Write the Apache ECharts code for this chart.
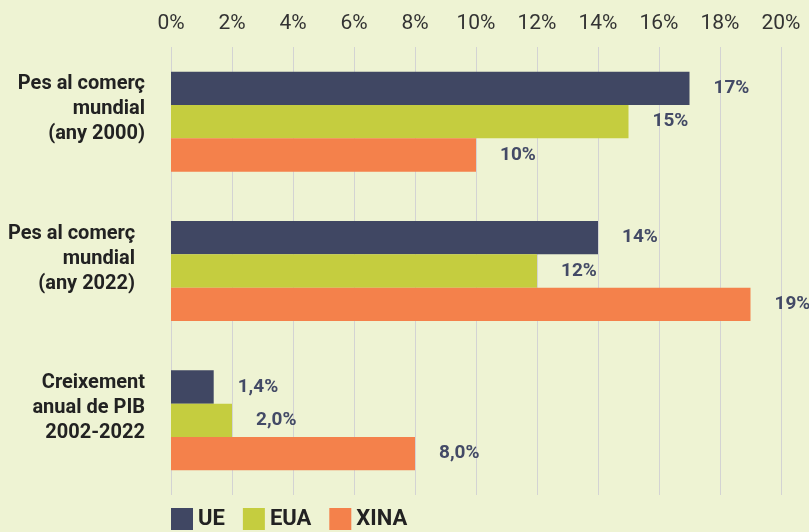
<!DOCTYPE html>
<html>
<head>
<meta charset="utf-8">
<script src="https://cdn.jsdelivr.net/npm/echarts@6/dist/echarts.min.js"></script>
<style>
  html, body { margin: 0; padding: 0; background: #eef3d3; }
  #chart { width: 809px; height: 532px; }
</style>
</head>
<body>
<div id="chart"></div>
<script>
// categories (top to bottom)
const categories = [
  "Pes al comerç\nmundial\n(any 2000)",
  "Pes al comerç  \nmundial  \n(any 2022)  ",
  "Creixement\nanual de PIB\n2002-2022"
];
const ue = [17, 14, 1.4];
const eua = [15, 12, 2.0];
const xina = [10, 19, 8.0];

const chart = echarts.init(document.getElementById("chart"));

// label: integers for the trade shares, one decimal (comma) for growth
function fmt(p) {
  if (p.dataIndex === 2) return p.value.toFixed(1).replace(".", ",") + "%";
  return Math.round(p.value) + "%";
}

const labelStyle = {
  show: true,
  position: "right",
  distance: 24,
  formatter: fmt,
  color: "#434a66",
  fontWeight: "bold",
  fontSize: 19,
  fontFamily: "Roboto"
};

const option = {
  backgroundColor: "#eef3d3",
  animation: false,
  textStyle: { fontFamily: "Roboto" },
  color: ["#404763", "#c5cd3f", "#f4814b"],
  grid: { left: 171, right: 28, top: 47, bottom: 37 },
  legend: {
    left: 166,
    top: 503,
    itemWidth: 22,
    itemHeight: 22,
    itemGap: 18,
    icon: "rect",
    textStyle: { fontSize: 22, fontWeight: "bold", color: "#222" },
    data: ["UE", "EUA", "XINA"]
  },
  xAxis: {
    type: "value",
    position: "top",
    min: 0,
    max: 20,
    interval: 2,
    axisLine: { show: false },
    axisTick: { show: false },
    axisLabel: {
      formatter: "{value}%",
      fontSize: 21,
      color: "#333",
      margin: 13
    },
    splitLine: { lineStyle: { color: "#d3d3d3", width: 1 } }
  },
  yAxis: {
    type: "category",
    inverse: true,
    data: categories,
    axisLine: { show: false },
    axisTick: { show: false },
    axisLabel: {
      // trailing empty line lifts the block above the bar group centre
      formatter: (v) => v + "\n",
      fontSize: 20,
      fontWeight: "bold",
      color: "#222",
      lineHeight: 25,
      margin: 26,
      align: "right",
      verticalAlign: "middle"
    }
  },
  series: [
    { name: "UE", type: "bar", data: ue, barGap: "0%", barCategoryGap: "33%", label: labelStyle },
    { name: "EUA", type: "bar", data: eua, label: labelStyle },
    { name: "XINA", type: "bar", data: xina, label: labelStyle }
  ]
};

chart.setOption(option);
</script>
</body>
</html>
